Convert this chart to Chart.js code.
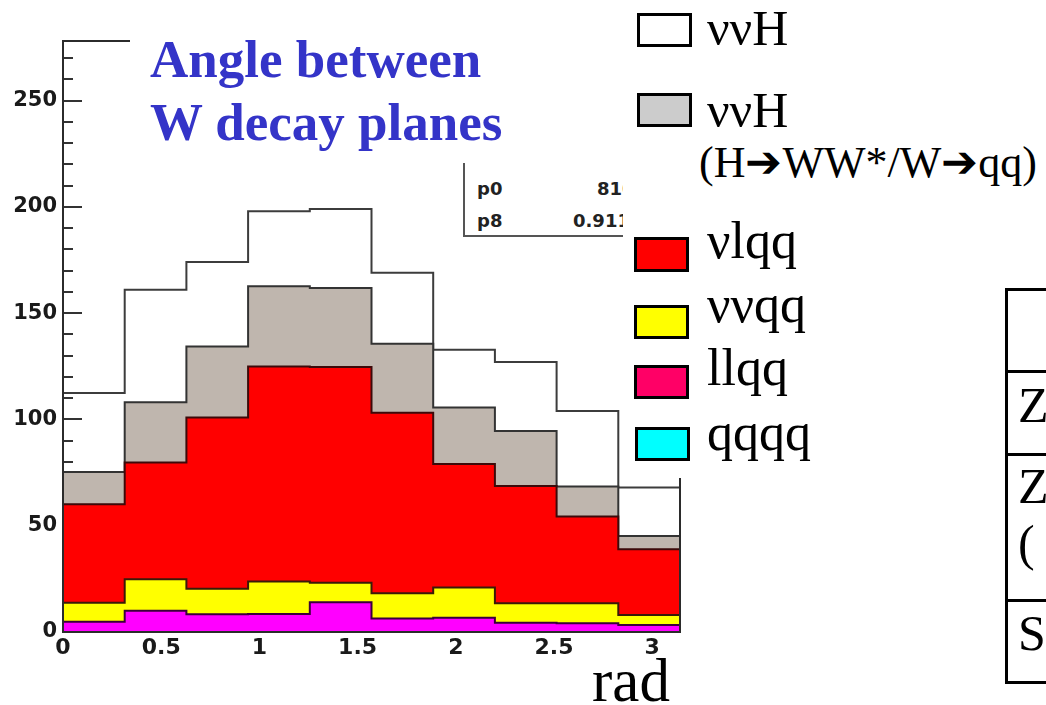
<!DOCTYPE html>
<html>
<head>
<meta charset="utf-8">
<title>Angle between W decay planes</title>
<script src="https://cdn.jsdelivr.net/npm/chart.js@4.4.1/dist/chart.umd.min.js"></script>
<style>
  html, body { margin: 0; padding: 0; background: #fff; }
  body { width: 1046px; height: 705px; position: relative; overflow: hidden; }
  #plot { position: absolute; left: 0; top: 0; }
  .abs { position: absolute; white-space: nowrap; line-height: 1; }
  .serif { font-family: "Liberation Serif", "Times New Roman", serif; color: #000; }
  .mask { position: absolute; background: #fff; }
  .swatch { position: absolute; width: 55px; height: 34px; border: 3px solid #000; box-sizing: border-box; }
  .rule { position: absolute; left: 0; width: 100%; height: 3px; background: #000; }
  #stats { position: absolute; left: 463px; top: 100px; width: 300px; height: 137px;
           border-left: 2px solid #555; border-bottom: 2px solid #555; background: #fff; box-sizing: border-box; }
  .stat { position: absolute; white-space: nowrap; line-height: 1; font: bold 18px "DejaVu Sans", sans-serif; color: #222; }
</style>
</head>
<body>
<canvas id="plot" width="1046" height="705"></canvas>

<!-- fit box, partly hidden behind the title and legend -->
<div id="stats">
  <span class="stat" style="left:12px; top:77.8px;">p0</span>
  <span class="stat" style="left:132px; top:77.8px;">810</span>
  <span class="stat" style="left:12px; top:109.8px;">p8</span>
  <span class="stat" style="left:108px; top:109.8px;">0.9111</span>
</div>

<!-- title -->
<div class="mask" style="left:130px; top:0; width:493px; height:163px;"></div>
<div class="abs serif" style="left:150px; top:32.6px; font-size:53px; font-weight:bold; color:#3434c8;">Angle between</div>
<div class="abs serif" style="left:150px; top:95.6px; font-size:53px; font-weight:bold; color:#3434c8;">W decay planes</div>

<!-- legend -->
<div class="mask" style="left:623px; top:0; width:423px; height:478px;"></div>
<div class="swatch" style="left:637px; top:13px; background:#fff;"></div>
<div class="abs serif" style="left:707px; top:3.1px; font-size:50px;">ννH</div>
<div class="swatch" style="left:637px; top:93px; background:#cccccc;"></div>
<div class="abs serif" style="left:707px; top:85.1px; font-size:50px;">ννH</div>
<div class="abs serif" style="left:699px; top:141.2px; font-size:44px;">(H➔WW*/W➔qq)</div>
<div class="swatch" style="left:634px; top:237px; height:35px; background:#ff0000;"></div>
<div class="abs serif" style="left:707px; top:214.5px; font-size:52px;">νlqq</div>
<div class="swatch" style="left:634px; top:305px; background:#ffff00;"></div>
<div class="abs serif" style="left:707px; top:278.5px; font-size:52px;">ννqq</div>
<div class="swatch" style="left:634px; top:365px; background:#ff0066;"></div>
<div class="abs serif" style="left:707px; top:341.5px; font-size:52px;">llqq</div>
<div class="swatch" style="left:635px; top:427px; background:#00ffff;"></div>
<div class="abs serif" style="left:707px; top:406.5px; font-size:52px;">qqqq</div>

<!-- axis unit -->
<div class="abs serif" style="left:592px; top:649.8px; font-size:61px;">rad</div>

<!-- event table, running off the right edge -->
<div style="position:absolute; left:1005px; top:288px; width:300px; height:396px; border:3px solid #000; box-sizing:border-box;">
  <div class="rule" style="top:79px;"></div>
  <div class="rule" style="top:162px;"></div>
  <div class="rule" style="top:308px;"></div>
</div>
<div class="abs serif" style="left:1018px; top:380.1px; font-size:50px;">Z</div>
<div class="abs serif" style="left:1018px; top:461.1px; font-size:50px;">Z</div>
<div class="abs serif" style="left:1018px; top:518.1px; font-size:50px;">(</div>
<div class="abs serif" style="left:1018px; top:608.1px; font-size:50px;">S</div>

<script>
// binning of the angle histogram
const binCount = 10;
const xMin = 0;
const xMax = Math.PI;

const xTickValues = [0, 0.5, 1, 1.5, 2, 2.5, 3];
const xTickLabels = ['0', '0.5', '1', '1.5', '2', '2.5', '3'];
const yTickValues = [0, 50, 100, 150, 200, 250];
const yTickLabels = ['0', '50', '100', '150', '200', '250'];
const yMax = 278;

// events per bin for each process, bottom of the stack first
const qqqq  = [0, 0, 0, 0, 0, 0, 0, 0, 0, 0];
const llqq  = [4.8, 10.0, 8.3, 8.5, 14.0, 6.4, 6.7, 4.4, 4.1, 3.3];
const vvqq  = [9.0, 14.8, 12.1, 15.2, 9.2, 11.8, 14.2, 9.1, 9.4, 4.7];
const vlqq  = [46.3, 54.9, 80.5, 101.2, 101.4, 84.9, 58.1, 55.2, 40.8, 30.9];
const vvHww = [15.2, 28.4, 33.4, 37.7, 37.2, 32.5, 26.6, 25.9, 14.1, 6.3];
const vvH   = [37.1, 52.9, 39.7, 35.3, 37.2, 33.4, 27.2, 32.4, 35.6, 22.8];

const layers = [
  { label: 'qqqq', values: qqqq, fill: '#00ffff', line: '#3a003a' },
  { label: 'llqq', values: llqq, fill: '#ff00ff', line: '#3a003a' },
  { label: 'ννqq', values: vvqq, fill: '#ffff00', line: '#3a1a08' },
  { label: 'νlqq', values: vlqq, fill: '#ff0000', line: '#3c0a0a' },
  { label: 'ννH (H→WW*/W→qq)', values: vvHww, fill: '#bfb6ae', line: '#333333' },
  { label: 'ννH', values: vvH, fill: null, line: '#3c3c3c' }
];

// THStack style: each dataset is the cumulative sum up to its layer
const binWidth = (xMax - xMin) / binCount;
let running = new Array(binCount).fill(0);
const datasets = layers.map(layer => {
  running = running.map((sum, i) => sum + layer.values[i]);
  const points = running.map((v, i) => ({ x: xMin + i * binWidth, y: v }));
  points.push({ x: xMax, y: running[binCount - 1] });
  return {
    label: layer.label,
    data: points,
    stepped: true,
    fill: layer.fill ? 'origin' : false,
    backgroundColor: layer.fill || 'transparent',
    borderColor: layer.line,
    borderWidth: 2,
    borderJoinStyle: 'miter',
    pointRadius: 0
  };
});

// inward y ticks under the fills, frame on top
const framePlugin = {
  id: 'frame',
  beforeDatasetsDraw(chart) {
    const { ctx, chartArea: area, scales: { y } } = chart;
    ctx.save();
    ctx.strokeStyle = '#333';
    ctx.lineWidth = 2;
    ctx.beginPath();
    for (let v = 0; v <= y.max; v += 10) {
      const py = Math.round(y.getPixelForValue(v));
      const len = v % 50 === 0 ? 19 : 10;
      ctx.moveTo(area.left, py);
      ctx.lineTo(area.left + len, py);
    }
    ctx.stroke();
    ctx.restore();
  },
  afterDatasetsDraw(chart) {
    const { ctx, chartArea: area } = chart;
    ctx.save();
    ctx.strokeStyle = '#2b2b2b';
    ctx.lineWidth = 2;
    ctx.strokeRect(area.left, area.top, area.right - area.left, area.bottom - area.top);
    ctx.restore();
  }
};

const tickFont = { family: 'DejaVu Sans', weight: 'bold', size: 21 };

new Chart(document.getElementById('plot'), {
  type: 'line',
  data: { datasets },
  options: {
    responsive: false,
    animation: false,
    events: [],
    layout: { padding: { top: 41, right: 366, left: 0, bottom: 0 } },
    plugins: {
      legend: { display: false },
      tooltip: { enabled: false },
      title: { display: false }
    },
    scales: {
      x: {
        type: 'linear',
        min: xMin,
        max: xMax,
        grid: { display: false, drawTicks: false },
        border: { display: false },
        afterBuildTicks: scale => { scale.ticks = xTickValues.map(v => ({ value: v })); },
        afterFit: scale => { scale.height = 73; },
        ticks: {
          autoSkip: false,
          maxRotation: 0,
          padding: 3,
          color: '#1a1a1a',
          font: { ...tickFont, size: 22 },
          callback: (value, index) => xTickLabels[index]
        }
      },
      y: {
        type: 'linear',
        min: 0,
        max: yMax,
        grid: { display: false, drawTicks: false },
        border: { display: false },
        afterBuildTicks: scale => { scale.ticks = yTickValues.map(v => ({ value: v })); },
        afterFit: scale => { scale.width = 63; },
        ticks: {
          padding: 6,
          color: '#1a1a1a',
          font: tickFont,
          callback: (value, index) => yTickLabels[index]
        }
      }
    }
  },
  plugins: [framePlugin]
});
</script>
</body>
</html>
